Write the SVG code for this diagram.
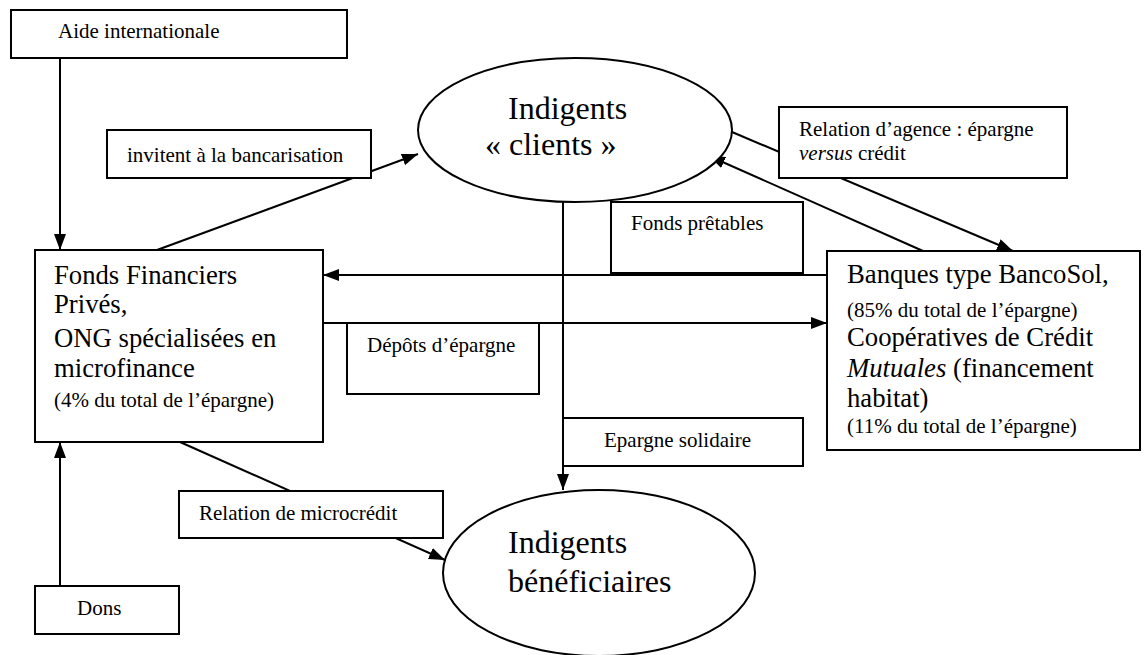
<svg xmlns="http://www.w3.org/2000/svg" width="1146" height="655" viewBox="0 0 1146 655">
<style>
.box{fill:#fff;stroke:#000;stroke-width:2}
.ell{fill:#fff;stroke:#000;stroke-width:2}
.ln{fill:none;stroke:#000;stroke-width:2}
text{font-family:'Liberation Serif','Times New Roman',Times,'DejaVu Serif',serif;fill:#000}
.s{font-size:21px}
.m{font-size:26.7px}
.l{font-size:32px}
</style>
<defs>
<marker id="ah" viewBox="0 0 16 12" refX="16" refY="6" markerWidth="16" markerHeight="12" markerUnits="userSpaceOnUse" orient="auto">
<path d="M0,0 L16,6 L0,12 z" fill="#000"/>
</marker>
</defs>
<g id="connectors">
<line class="ln" x1="60" y1="58" x2="60" y2="250" marker-end="url(#ah)"/>
<line class="ln" x1="157" y1="250" x2="418" y2="154" marker-end="url(#ah)"/>
<line class="ln" x1="732" y1="132" x2="1013" y2="251" marker-end="url(#ah)"/>
<line class="ln" x1="923" y1="251" x2="709" y2="156" marker-end="url(#ah)"/>
<line class="ln" x1="827" y1="275" x2="323" y2="275" marker-end="url(#ah)"/>
<line class="ln" x1="323" y1="323" x2="827" y2="323" marker-end="url(#ah)"/>
<line class="ln" x1="563" y1="202" x2="563" y2="490" marker-end="url(#ah)"/>
<line class="ln" x1="180" y1="442" x2="445" y2="560" marker-end="url(#ah)"/>
<line class="ln" x1="60" y1="586" x2="60" y2="442" marker-end="url(#ah)"/>
</g>
<g id="aide">
<rect class="box" x="11" y="10" width="336" height="48"/>
<text class="s" x="58" y="38" font-family="Liberation Serif, serif">Aide internationale</text>
</g>
<g id="invitent">
<rect class="box" x="107" y="130" width="264" height="48"/>
<text class="s" x="127" y="162">invitent à la bancarisation</text>
</g>
<g id="clients">
<ellipse class="ell" cx="575" cy="130" rx="157" ry="72"/>
<text class="l" x="508" y="119">Indigents</text>
<text class="l" x="485" y="155">« clients »</text>
</g>
<g id="relation-agence">
<rect class="box" x="779" y="107" width="288" height="71"/>
<text class="s" x="799" y="136">Relation d’agence : épargne</text>
<text class="s" x="799" y="160"><tspan font-style="italic">versus</tspan> crédit</text>
</g>
<g id="fonds-pretables">
<rect class="box" x="611" y="202" width="192" height="71"/>
<text class="s" x="631" y="230">Fonds prêtables</text>
</g>
<g id="fonds">
<rect class="box" x="35" y="250" width="288" height="192"/>
<text class="m" x="54" y="284">Fonds Financiers</text>
<text class="m" x="54" y="313">Privés,</text>
<text class="m" x="54" y="347">ONG spécialisées en</text>
<text class="m" x="54" y="377">microfinance</text>
<text class="s" x="54" y="407">(4% du total de l’épargne)</text>
</g>
<g id="depots">
<rect class="box" x="347" y="323" width="192" height="71"/>
<text class="s" x="367" y="352">Dépôts d’épargne</text>
</g>
<g id="banques">
<rect class="box" x="827" y="251" width="313" height="199"/>
<text class="m" x="847" y="283">Banques type BancoSol,</text>
<text class="s" x="847" y="317">(85% du total de l’épargne)</text>
<text class="m" x="847" y="346">Coopératives de Crédit</text>
<text class="m" x="847" y="377"><tspan font-style="italic">Mutuales</tspan> (financement</text>
<text class="m" x="847" y="407">habitat)</text>
<text class="s" x="847" y="433">(11% du total de l’épargne)</text>
</g>
<g id="epargne-solidaire">
<rect class="box" x="563" y="418" width="240" height="48"/>
<text class="s" x="604" y="447">Epargne solidaire</text>
</g>
<g id="microcredit">
<rect class="box" x="179" y="491" width="264" height="47"/>
<text class="s" x="199" y="520">Relation de microcrédit</text>
</g>
<g id="beneficiaires">
<ellipse class="ell" cx="599" cy="573" rx="156" ry="83"/>
<text class="l" x="508" y="553">Indigents</text>
<text class="l" x="508" y="592">bénéficiaires</text>
</g>
<g id="dons">
<rect class="box" x="35" y="586" width="144" height="48"/>
<text class="s" x="77" y="615">Dons</text>
</g>
</svg>
